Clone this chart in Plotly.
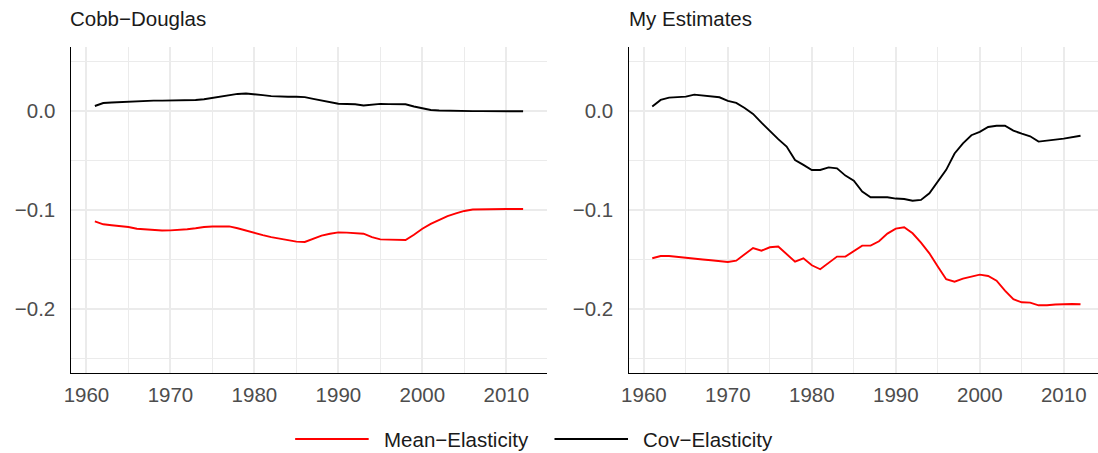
import plotly.graph_objects as go

years = list(range(1961, 2013))

cd_cov = [0.0050, 0.0080, 0.0085, 0.0090, 0.0092, 0.0100, 0.0103, 0.0104, 0.0104, 0.0104,
          0.0104, 0.0105, 0.0110, 0.0118, 0.0132, 0.0150, 0.0163, 0.0172, 0.0176, 0.0170,
          0.0160, 0.0150, 0.0145, 0.0143, 0.0143, 0.0140, 0.0122, 0.0108, 0.0090, 0.0073,
          0.0070, 0.0067, 0.0055, 0.0065, 0.0072, 0.0069, 0.0068, 0.0067, 0.0045, 0.0025,
          0.0010, 0.0005, 0.0002, 0.0000, -0.0001, -0.0002, -0.0002, -0.0002, -0.0002, -0.0002,
          -0.0003, -0.0003]

cd_mean = [-0.1115, -0.1145, -0.1155, -0.1165, -0.1172, -0.1190, -0.1198, -0.1203, -0.1207, -0.1206,
           -0.1202, -0.1195, -0.1185, -0.1172, -0.1167, -0.1165, -0.1166, -0.1185, -0.1210, -0.1235,
           -0.1255, -0.1275, -0.1292, -0.1308, -0.1320, -0.1323, -0.1290, -0.1260, -0.1240, -0.1226,
           -0.1229, -0.1232, -0.1240, -0.1275, -0.1297, -0.1300, -0.1302, -0.1303, -0.1250, -0.1190,
           -0.1140, -0.1100, -0.1062, -0.1035, -0.1010, -0.0995, -0.0992, -0.0991, -0.0990, -0.0990,
           -0.0990, -0.0990]

me_cov = [0.0044, 0.0111, 0.0135, 0.0140, 0.0145, 0.0165, 0.0158, 0.0145, 0.0138, 0.0101,
          0.0081, 0.0030, -0.0030, -0.0118, -0.0205, -0.0285, -0.0360, -0.0495, -0.0545, -0.0596,
          -0.0596, -0.0570, -0.0580, -0.0653, -0.0705, -0.0815, -0.0872, -0.0872, -0.0872, -0.0885,
          -0.0889, -0.0907, -0.0899, -0.0832, -0.0714, -0.0595, -0.0430, -0.0327, -0.0245, -0.0212,
          -0.0162, -0.0150, -0.0148, -0.0199, -0.0230, -0.0256, -0.0310, -0.0303, -0.0290, -0.0280,
          -0.0268, -0.0250]

me_mean = [-0.1488, -0.1465, -0.1465, -0.1472, -0.1480, -0.1486, -0.1500, -0.1508, -0.1515, -0.1525,
           -0.1512, -0.1448, -0.1384, -0.1411, -0.1377, -0.1370, -0.1444, -0.1522, -0.1488, -0.1559,
           -0.1599, -0.1532, -0.1471, -0.1471, -0.1411, -0.1360, -0.1360, -0.1316, -0.1239, -0.1189,
           -0.1175, -0.1236, -0.1330, -0.1438, -0.1572, -0.1700, -0.1724, -0.1694, -0.1673, -0.1653,
           -0.1667, -0.1714, -0.1815, -0.1902, -0.1933, -0.1936, -0.1963, -0.1963, -0.1955, -0.1950,
           -0.1950, -0.1953]

panel_titles = ["Cobb\u2212Douglas", "My Estimates"]
series_names = ["Mean\u2212Elasticity", "Cov\u2212Elasticity"]
series_colors = ["#FF0000", "#000000"]
x_tickvals = [1960, 1970, 1980, 1990, 2000, 2010]
x_ticktext = ["1960", "1970", "1980", "1990", "2000", "2010"]
y_tickvals = [-0.2, -0.1, 0.0]
y_ticktext = ["\u22120.2", "\u22120.1", "0.0"]

W, H = 1098, 453
FONT = "Liberation Sans, Arial, Helvetica, sans-serif"
FS = 20.5
GRID = "#EBEBEB"
LW = 1.9

fig = go.Figure()
panels = [(cd_mean, cd_cov, "x", "y"), (me_mean, me_cov, "x2", "y2")]
for mean_vals, cov_vals, xa, ya in panels:
    fig.add_trace(go.Scatter(x=years, y=mean_vals, mode="lines", name=series_names[0],
                             line=dict(color=series_colors[0], width=LW), xaxis=xa, yaxis=ya,
                             showlegend=False, hoverinfo="skip"))
    fig.add_trace(go.Scatter(x=years, y=cov_vals, mode="lines", name=series_names[1],
                             line=dict(color=series_colors[1], width=LW), xaxis=xa, yaxis=ya,
                             showlegend=False, hoverinfo="skip"))

def px_x(p):
    return p / W

def px_y(p):
    return 1 - p / H

y_dom = [px_y(373.3), px_y(47)]
xaxis_common = dict(
    tickvals=x_tickvals, ticktext=x_ticktext, showgrid=True, gridcolor=GRID, gridwidth=1.9,
    minor=dict(dtick=5, tick0=1960, showgrid=True, gridcolor=GRID, gridwidth=0.95),
    showline=True, linecolor="black", linewidth=1.4, zeroline=False, ticks="",
    tickfont=dict(family=FONT, size=FS, color="#4D4D4D"), ticklabelstandoff=3,
)
yaxis_common = dict(
    tickvals=y_tickvals, ticktext=y_ticktext, showgrid=True, gridcolor=GRID, gridwidth=1.9,
    minor=dict(dtick=0.05, tick0=0, showgrid=True, gridcolor=GRID, gridwidth=0.95),
    showline=True, linecolor="black", linewidth=1.4, zeroline=False, ticks="",
    tickfont=dict(family=FONT, size=FS, color="#4D4D4D"), ticklabelstandoff=10,
    range=[-0.265, 0.0646], domain=y_dom,
)

fig.update_layout(
    width=W, height=H, margin=dict(l=0, r=0, t=0, b=0),
    paper_bgcolor="white", plot_bgcolor="white", showlegend=False,
    font=dict(family=FONT),
    xaxis=dict(xaxis_common, domain=[px_x(64), px_x(543)], range=[1958.11, 2014.79], anchor="y"),
    yaxis=dict(yaxis_common, anchor="x"),
    xaxis2=dict(xaxis_common, domain=[px_x(625.5), 1.0], range=[1958.17, 2014.08], anchor="y2"),
    yaxis2=dict(yaxis_common, anchor="x2"),
)

# panel titles
for title, xpos in zip(panel_titles, [61.5, 623.5]):
    fig.add_annotation(text=title, xref="paper", yref="paper", x=px_x(xpos), y=px_y(19),
                       xanchor="left", yanchor="middle", showarrow=False,
                       font=dict(family=FONT, size=FS, color="#1A1A1A"))

# legend (drawn manually to match long key lines)
legend_keys = [(290, 364, 377.5), (551, 625, 638.5)]
for (x0, x1, xt), name, col in zip(legend_keys, series_names, series_colors):
    fig.add_shape(type="line", xref="paper", yref="paper", x0=px_x(x0), x1=px_x(x1),
                  y0=px_y(439), y1=px_y(439), line=dict(color=col, width=LW))
    fig.add_annotation(text=name, xref="paper", yref="paper", x=px_x(xt), y=px_y(439.5),
                       xanchor="left", yanchor="middle", showarrow=False,
                       font=dict(family=FONT, size=FS, color="#1A1A1A"))

fig.write_html(
    "out.html",
    config={"displayModeBar": False},
    post_script="document.body.style.margin='0';document.body.style.padding='0';"
                "document.body.style.overflow='hidden';",
)
